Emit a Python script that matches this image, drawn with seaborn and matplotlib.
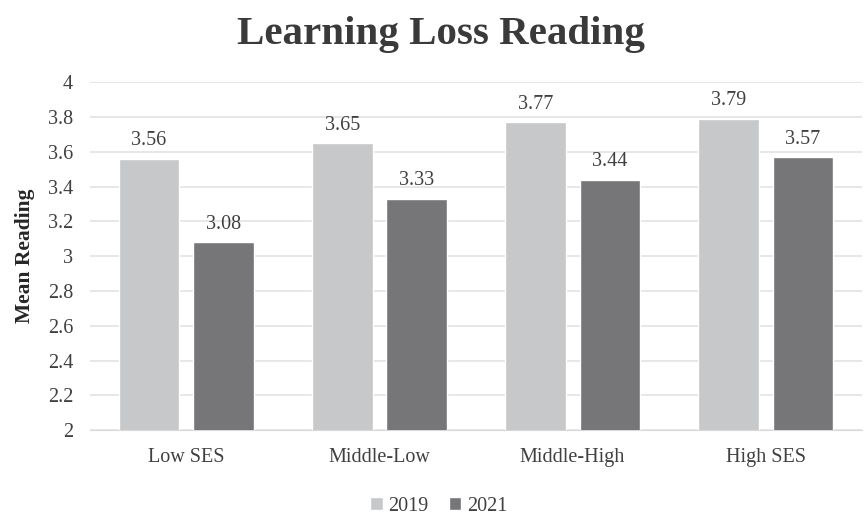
import matplotlib
matplotlib.use("Agg")
import matplotlib.pyplot as plt
import seaborn as sns
import pandas as pd

# Chart data
categories = ["Low SES", "Middle-Low", "Middle-High", "High SES"]
years = ["2019", "2021"]
values_2019 = [3.56, 3.65, 3.77, 3.79]
values_2021 = [3.08, 3.33, 3.44, 3.57]
y_ticks = [2, 2.2, 2.4, 2.6, 2.8, 3, 3.2, 3.4, 3.6, 3.8, 4]

colors = {"2019": "#c7c8ca", "2021": "#767679"}

df = pd.DataFrame({
    "group": categories * 2,
    "year": [years[0]] * 4 + [years[1]] * 4,
    "value": values_2019 + values_2021,
})

sns.set_style("white")
plt.rcParams["font.family"] = ["Liberation Serif", "DejaVu Serif"]

fig = plt.figure(figsize=(8.64, 5.17), dpi=100)
ax = fig.add_axes([0.104, 0.168, 0.894, 0.673])

sns.barplot(data=df, x="group", y="value", hue="year", order=categories,
            hue_order=years, palette=colors, width=0.773, gap=0.187,
            saturation=1, ax=ax, zorder=3)

for cont in ax.containers:
    ax.bar_label(cont, fmt="%.2f", padding=6, fontsize=14.5, color="#404040")

ax.set_ylim(2, 4)
ax.set_yticks(y_ticks)
ax.set_yticklabels([f"{t:g}" for t in y_ticks])
ax.set_xlim(-0.5, 3.5)
ax.grid(axis="y", color="#e3e3e3", linewidth=1.2, zorder=0)
ax.set_axisbelow(True)
for s in ["top", "right", "left"]:
    ax.spines[s].set_visible(False)
ax.spines["bottom"].set_color("#d9d9d9")
ax.tick_params(axis="both", length=0, labelsize=14.5, labelcolor="#404040")
ax.tick_params(axis="y", pad=12)
ax.tick_params(axis="x", pad=13)
ax.set_xlabel("")
ax.set_ylabel("Mean Reading", fontsize=15.5, fontweight="bold", color="#262626", labelpad=9)

fig.suptitle("Learning Loss Reading", fontsize=29.5, fontweight="bold",
             color="#3a3a3a", x=0.51, y=0.97)

ax.legend(loc="upper center", bbox_to_anchor=(0.452, -0.14), ncol=2, frameon=False,
          fontsize=14.5, handlelength=0.6, handleheight=0.6, handletextpad=0.3,
          columnspacing=1.0, labelcolor="#404040")

fig.savefig("out.png", dpi=100)
